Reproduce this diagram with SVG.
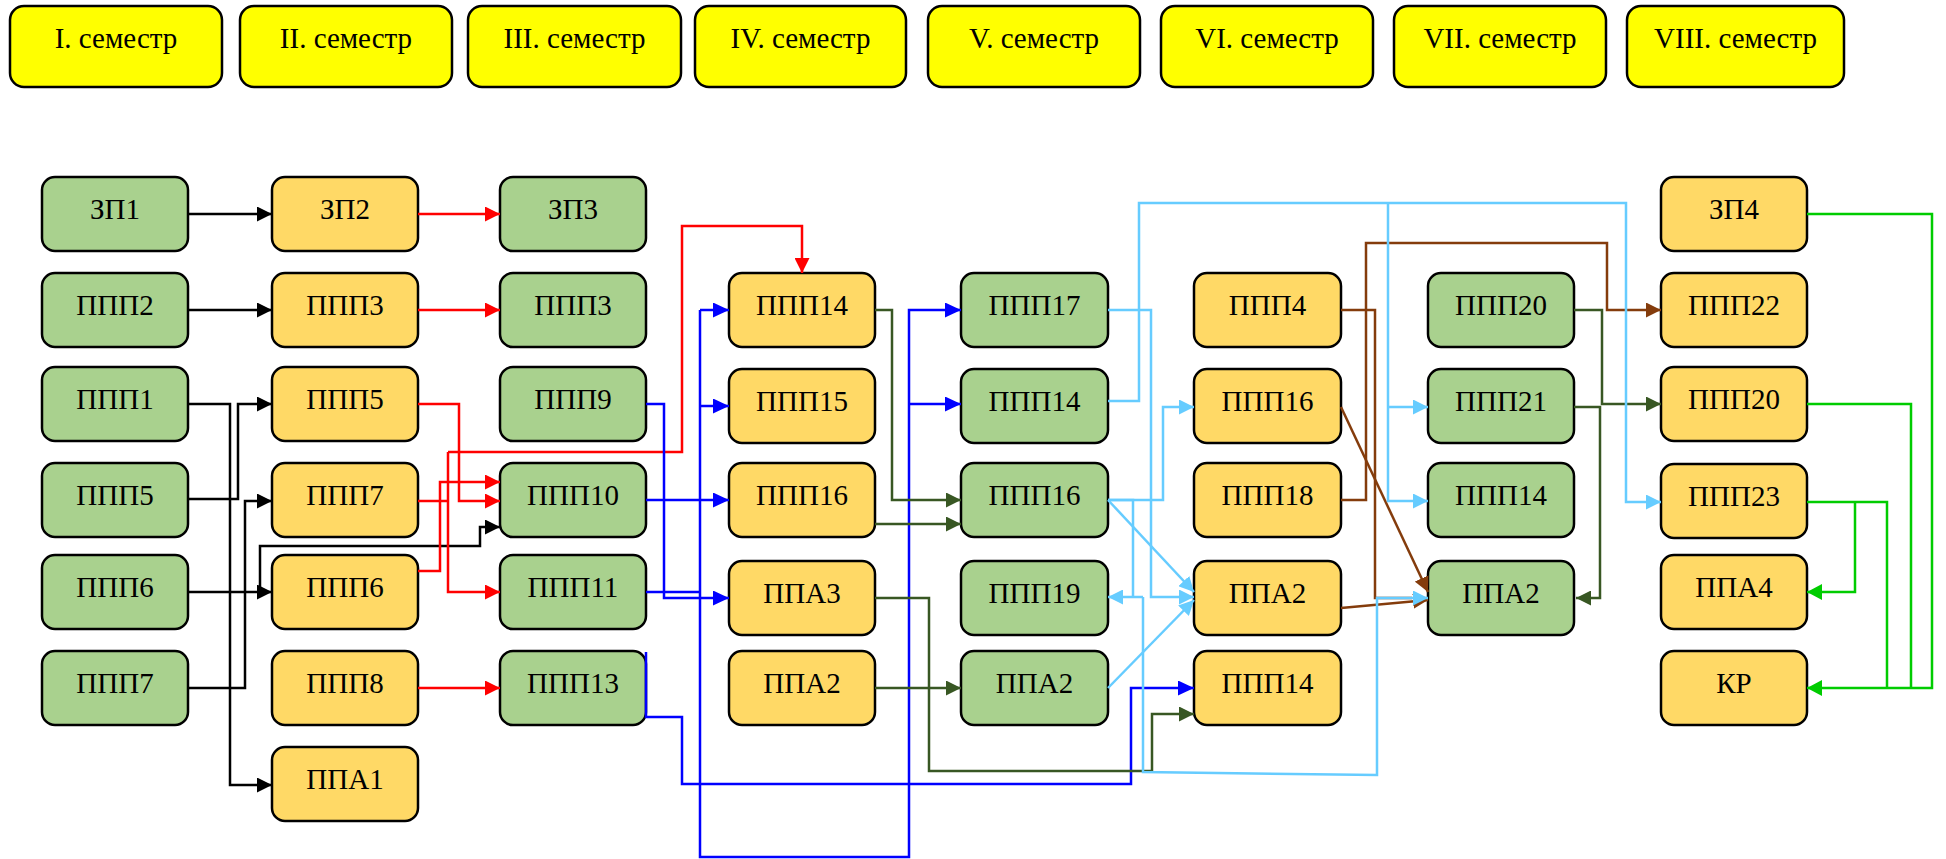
<svg xmlns="http://www.w3.org/2000/svg" width="1946" height="859" viewBox="0 0 1946 859">
<style>
.sem rect{fill:#FFFF00;stroke:#000;stroke-width:2.5}
.g rect{fill:#A9D18E;stroke:#000;stroke-width:2.5}
.o rect{fill:#FFD966;stroke:#000;stroke-width:2.5}
text{font-family:"Liberation Serif","Times New Roman",serif;font-size:29px;fill:#000;text-anchor:middle}
#connectors path{fill:none;stroke-width:2.5;stroke-linejoin:miter}
.k{stroke:#000}
.r{stroke:#FF0000}
.b{stroke:#0000FF;stroke-width:3px}
.lb{stroke:#66CCFF}
.dg{stroke:#385723}
.br{stroke:#843C0C}
.gr{stroke:#00CC00}
</style>
<defs>
<marker id="ak" markerUnits="userSpaceOnUse" markerWidth="15" markerHeight="15" refX="15" refY="7.5" orient="auto"><path d="M0,0 L15,7.5 L0,15 z" fill="#000"/></marker>
<marker id="ar" markerUnits="userSpaceOnUse" markerWidth="15" markerHeight="15" refX="15" refY="7.5" orient="auto"><path d="M0,0 L15,7.5 L0,15 z" fill="#FF0000"/></marker>
<marker id="ab" markerUnits="userSpaceOnUse" markerWidth="16" markerHeight="15" refX="16" refY="7.5" orient="auto"><path d="M0,0 L16,7.5 L0,15 z" fill="#0000FF"/></marker>
<marker id="alb" markerUnits="userSpaceOnUse" markerWidth="15" markerHeight="15" refX="15" refY="7.5" orient="auto"><path d="M0,0 L15,7.5 L0,15 z" fill="#66CCFF"/></marker>
<marker id="adg" markerUnits="userSpaceOnUse" markerWidth="15" markerHeight="15" refX="15" refY="7.5" orient="auto"><path d="M0,0 L15,7.5 L0,15 z" fill="#385723"/></marker>
<marker id="abr" markerUnits="userSpaceOnUse" markerWidth="15" markerHeight="15" refX="15" refY="7.5" orient="auto"><path d="M0,0 L15,7.5 L0,15 z" fill="#843C0C"/></marker>
<marker id="agr" markerUnits="userSpaceOnUse" markerWidth="15" markerHeight="16" refX="15" refY="8" orient="auto"><path d="M0,0 L15,8 L0,16 z" fill="#00CC00"/></marker>
</defs>
<rect width="1946" height="859" fill="#fff"/>

<g id="semesters">
<g id="s1" class="sem"><rect x="10" y="6" width="212" height="81" rx="14"/><text x="116" y="48">I. семестр</text></g>
<g id="s2" class="sem"><rect x="240" y="6" width="212" height="81" rx="14"/><text x="346" y="48">II. семестр</text></g>
<g id="s3" class="sem"><rect x="468" y="6" width="213" height="81" rx="14"/><text x="574.5" y="48">III. семестр</text></g>
<g id="s4" class="sem"><rect x="695" y="6" width="211" height="81" rx="14"/><text x="800.5" y="48">IV. семестр</text></g>
<g id="s5" class="sem"><rect x="928" y="6" width="212" height="81" rx="14"/><text x="1034" y="48">V. семестр</text></g>
<g id="s6" class="sem"><rect x="1161" y="6" width="212" height="81" rx="14"/><text x="1267" y="48">VI. семестр</text></g>
<g id="s7" class="sem"><rect x="1394" y="6" width="212" height="81" rx="14"/><text x="1500" y="48">VII. семестр</text></g>
<g id="s8" class="sem"><rect x="1627" y="6" width="217" height="81" rx="14"/><text x="1735.5" y="48">VIII. семестр</text></g>
</g>

<g id="nodes">
<!-- column 1 -->
<g id="c1_zp1" class="g"><rect x="42" y="177" width="146" height="74" rx="13"/><text x="115" y="219">ЗП1</text></g>
<g id="c1_ppp2" class="g"><rect x="42" y="273" width="146" height="74" rx="13"/><text x="115" y="315">ППП2</text></g>
<g id="c1_ppp1" class="g"><rect x="42" y="367" width="146" height="74" rx="13"/><text x="115" y="409">ППП1</text></g>
<g id="c1_ppp5" class="g"><rect x="42" y="463" width="146" height="74" rx="13"/><text x="115" y="505">ППП5</text></g>
<g id="c1_ppp6" class="g"><rect x="42" y="555" width="146" height="74" rx="13"/><text x="115" y="597">ППП6</text></g>
<g id="c1_ppp7" class="g"><rect x="42" y="651" width="146" height="74" rx="13"/><text x="115" y="693">ППП7</text></g>
<!-- column 2 -->
<g id="c2_zp2" class="o"><rect x="272" y="177" width="146" height="74" rx="13"/><text x="345" y="219">ЗП2</text></g>
<g id="c2_ppp3" class="o"><rect x="272" y="273" width="146" height="74" rx="13"/><text x="345" y="315">ППП3</text></g>
<g id="c2_ppp5" class="o"><rect x="272" y="367" width="146" height="74" rx="13"/><text x="345" y="409">ППП5</text></g>
<g id="c2_ppp7" class="o"><rect x="272" y="463" width="146" height="74" rx="13"/><text x="345" y="505">ППП7</text></g>
<g id="c2_ppp6" class="o"><rect x="272" y="555" width="146" height="74" rx="13"/><text x="345" y="597">ППП6</text></g>
<g id="c2_ppp8" class="o"><rect x="272" y="651" width="146" height="74" rx="13"/><text x="345" y="693">ППП8</text></g>
<g id="c2_ppa1" class="o"><rect x="272" y="747" width="146" height="74" rx="13"/><text x="345" y="789">ППА1</text></g>
<!-- column 3 -->
<g id="c3_zp3" class="g"><rect x="500" y="177" width="146" height="74" rx="13"/><text x="573" y="219">ЗП3</text></g>
<g id="c3_ppp3" class="g"><rect x="500" y="273" width="146" height="74" rx="13"/><text x="573" y="315">ППП3</text></g>
<g id="c3_ppp9" class="g"><rect x="500" y="367" width="146" height="74" rx="13"/><text x="573" y="409">ППП9</text></g>
<g id="c3_ppp10" class="g"><rect x="500" y="463" width="146" height="74" rx="13"/><text x="573" y="505">ППП10</text></g>
<g id="c3_ppp11" class="g"><rect x="500" y="555" width="146" height="74" rx="13"/><text x="573" y="597">ППП11</text></g>
<g id="c3_ppp13" class="g"><rect x="500" y="651" width="146" height="74" rx="13"/><text x="573" y="693">ППП13</text></g>
<!-- column 4 -->
<g id="c4_ppp14" class="o"><rect x="729" y="273" width="146" height="74" rx="13"/><text x="802" y="315">ППП14</text></g>
<g id="c4_ppp15" class="o"><rect x="729" y="369" width="146" height="74" rx="13"/><text x="802" y="411">ППП15</text></g>
<g id="c4_ppp16" class="o"><rect x="729" y="463" width="146" height="74" rx="13"/><text x="802" y="505">ППП16</text></g>
<g id="c4_ppa3" class="o"><rect x="729" y="561" width="146" height="74" rx="13"/><text x="802" y="603">ППА3</text></g>
<g id="c4_ppa2" class="o"><rect x="729" y="651" width="146" height="74" rx="13"/><text x="802" y="693">ППА2</text></g>
<!-- column 5 -->
<g id="c5_ppp17" class="g"><rect x="961" y="273" width="147" height="74" rx="13"/><text x="1034.5" y="315">ППП17</text></g>
<g id="c5_ppp14" class="g"><rect x="961" y="369" width="147" height="74" rx="13"/><text x="1034.5" y="411">ППП14</text></g>
<g id="c5_ppp16" class="g"><rect x="961" y="463" width="147" height="74" rx="13"/><text x="1034.5" y="505">ППП16</text></g>
<g id="c5_ppp19" class="g"><rect x="961" y="561" width="147" height="74" rx="13"/><text x="1034.5" y="603">ППП19</text></g>
<g id="c5_ppa2" class="g"><rect x="961" y="651" width="147" height="74" rx="13"/><text x="1034.5" y="693">ППА2</text></g>
<!-- column 6 -->
<g id="c6_ppp4" class="o"><rect x="1194" y="273" width="147" height="74" rx="13"/><text x="1267.5" y="315">ППП4</text></g>
<g id="c6_ppp16" class="o"><rect x="1194" y="369" width="147" height="74" rx="13"/><text x="1267.5" y="411">ППП16</text></g>
<g id="c6_ppp18" class="o"><rect x="1194" y="463" width="147" height="74" rx="13"/><text x="1267.5" y="505">ППП18</text></g>
<g id="c6_ppa2" class="o"><rect x="1194" y="561" width="147" height="74" rx="13"/><text x="1267.5" y="603">ППА2</text></g>
<g id="c6_ppp14" class="o"><rect x="1194" y="651" width="147" height="74" rx="13"/><text x="1267.5" y="693">ППП14</text></g>
<!-- column 7 -->
<g id="c7_ppp20" class="g"><rect x="1428" y="273" width="146" height="74" rx="13"/><text x="1501" y="315">ППП20</text></g>
<g id="c7_ppp21" class="g"><rect x="1428" y="369" width="146" height="74" rx="13"/><text x="1501" y="411">ППП21</text></g>
<g id="c7_ppp14" class="g"><rect x="1428" y="463" width="146" height="74" rx="13"/><text x="1501" y="505">ППП14</text></g>
<g id="c7_ppa2" class="g"><rect x="1428" y="561" width="146" height="74" rx="13"/><text x="1501" y="603">ППА2</text></g>
<!-- column 8 -->
<g id="c8_zp4" class="o"><rect x="1661" y="177" width="146" height="74" rx="13"/><text x="1734" y="219">ЗП4</text></g>
<g id="c8_ppp22" class="o"><rect x="1661" y="273" width="146" height="74" rx="13"/><text x="1734" y="315">ППП22</text></g>
<g id="c8_ppp20" class="o"><rect x="1661" y="367" width="146" height="74" rx="13"/><text x="1734" y="409">ППП20</text></g>
<g id="c8_ppp23" class="o"><rect x="1661" y="464" width="146" height="74" rx="13"/><text x="1734" y="506">ППП23</text></g>
<g id="c8_ppa4" class="o"><rect x="1661" y="555" width="146" height="74" rx="13"/><text x="1734" y="597">ППА4</text></g>
<g id="c8_kr" class="o"><rect x="1661" y="651" width="146" height="74" rx="13"/><text x="1734" y="693">КР</text></g>
</g>

<g id="connectors">
<!-- black -->
<path class="k" d="M188,214 H272" marker-end="url(#ak)"/>
<path class="k" d="M188,310 H272" marker-end="url(#ak)"/>
<path class="k" d="M188,404 H230 V785 H272" marker-end="url(#ak)"/>
<path class="k" d="M188,499 H238 V404 H272" marker-end="url(#ak)"/>
<path class="k" d="M188,688 H245 V501 H272" marker-end="url(#ak)"/>
<path class="k" d="M188,592 H272" marker-end="url(#ak)"/>
<path class="k" d="M260,592 V546 H480 V527 H500" marker-end="url(#ak)"/>
<!-- red -->
<path class="r" d="M418,214 H500" marker-end="url(#ar)"/>
<path class="r" d="M418,310 H500" marker-end="url(#ar)"/>
<path class="r" d="M418,404 H459 V501 H500" marker-end="url(#ar)"/>
<path class="r" d="M418,501 H448"/>
<path class="r" d="M448,452 V592 H500" marker-end="url(#ar)"/>
<path class="r" d="M448,452 H682 V226 H802 V273" marker-end="url(#ar)"/>
<path class="r" d="M418,571 H440 V482 H500" marker-end="url(#ar)"/>
<path class="r" d="M418,688 H500" marker-end="url(#ar)"/>
<!-- blue -->
<path class="b" d="M646,404 H664 V598 H729" marker-end="url(#ab)"/>
<path class="b" d="M646,500 H729" marker-end="url(#ab)"/>
<path class="b" d="M646,592 H700"/>
<path class="b" d="M700,310 H729" marker-end="url(#ab)"/>
<path class="b" d="M700,406 H729" marker-end="url(#ab)"/>
<path class="b" d="M700,310 V857 H909 V310 H961" marker-end="url(#ab)"/>
<path class="b" d="M909,404 H961" marker-end="url(#ab)"/>
<path class="b" d="M646,652 V717 H682 V784 H1131 V688 H1194" marker-end="url(#ab)"/>
<!-- dark green -->
<path class="dg" d="M875,310 H892 V500 H961" marker-end="url(#adg)"/>
<path class="dg" d="M875,524 H961" marker-end="url(#adg)"/>
<path class="dg" d="M875,598 H929 V771 H1152 V714 H1194" marker-end="url(#adg)"/>
<path class="dg" d="M875,688 H961" marker-end="url(#adg)"/>
<path class="dg" d="M1574,310 H1602 V404 H1661" marker-end="url(#adg)"/>
<path class="dg" d="M1574,407 H1600 V598 H1576" marker-end="url(#adg)"/>
<!-- brown -->
<path class="br" d="M1341,310 H1375 V598 H1412"/>
<path class="br" d="M1341,407 L1428,592" marker-end="url(#abr)"/>
<path class="br" d="M1341,500 H1366 V243 H1607 V310 H1661" marker-end="url(#abr)"/>
<path class="br" d="M1341,608 L1428,600" marker-end="url(#abr)"/>
<!-- light blue -->
<path class="lb" d="M1108,310 H1151 V597 H1194" marker-end="url(#alb)"/>
<path class="lb" d="M1108,401 H1139 V203 H1626 V502 H1661" marker-end="url(#alb)"/>
<path class="lb" d="M1388,203 V501 H1428" marker-end="url(#alb)"/>
<path class="lb" d="M1388,407 H1428" marker-end="url(#alb)"/>
<path class="lb" d="M1108,500 H1163 V407 H1194" marker-end="url(#alb)"/>
<path class="lb" d="M1108,500 H1133 V597"/>
<path class="lb" d="M1143,597 H1108" marker-end="url(#alb)"/>
<path class="lb" d="M1143,597 V772 L1377,775 V598 H1428" marker-end="url(#alb)"/>
<path class="lb" d="M1108,500 L1194,592" marker-end="url(#alb)"/>
<path class="lb" d="M1108,688 L1194,600" marker-end="url(#alb)"/>
<!-- bright green -->
<path class="gr" d="M1807,214 H1932 V688 H1807" marker-end="url(#agr)"/>
<path class="gr" d="M1807,404 H1911 V688"/>
<path class="gr" d="M1807,502 H1887 V688"/>
<path class="gr" d="M1855,502 V592 H1807" marker-end="url(#agr)"/>
</g>
</svg>
